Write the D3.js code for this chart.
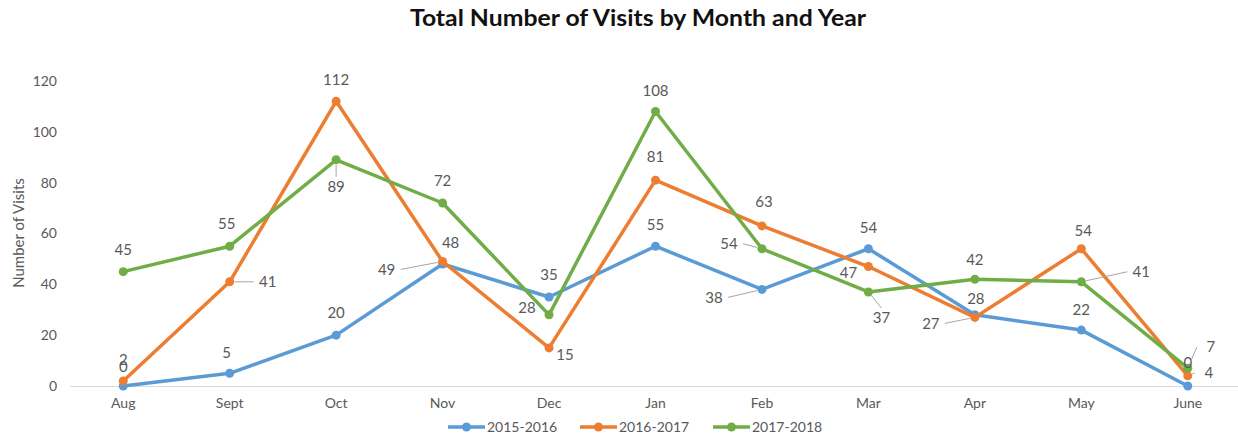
<!DOCTYPE html>
<html>
<head>
<meta charset="utf-8">
<script src="https://cdn.jsdelivr.net/npm/d3@7"></script>
<style>
  body { margin: 0; background: #fff; }
  text { font-family: "Lato", "Open Sans", sans-serif; }
</style>
</head>
<body>
<svg id="chart"></svg>
<script>
const months = ['Aug', 'Sept', 'Oct', 'Nov', 'Dec', 'Jan', 'Feb', 'Mar', 'Apr', 'May', 'June'];
const yTicks = [0, 20, 40, 60, 80, 100, 120];
const seriesNames = ['2015-2016', '2016-2017', '2017-2018'];
const visits2015 = [0, 5, 20, 48, 35, 55, 38, 54, 28, 22, 0];
const visits2016 = [2, 41, 112, 49, 15, 81, 63, 47, 27, 54, 4];
const visits2017 = [45, 55, 89, 72, 28, 108, 54, 37, 42, 41, 7];
const colors = ['#5b9bd5', '#ed7d31', '#70ad47'];

// label offsets from each point [dx, dy, leader]
const labelPos = [
  [[0,-19],[-3,-21],[0,-22],[8,-21],[0,-22],[0,-21],[-48,8,1],[0,-21],[1,-16],[0,-20],[0,-23]],
  [[0,-21],[38,0,1],[0,-22],[-56,8,1],[16,7],[0,-23],[2,-24],[-20,6],[-44,6,1],[2,-18],[21,-3,1]],
  [[0,-22],[-3,-22],[0,27,1],[0,-22],[-22,-7],[0,-21],[-33,-5,1],[13,26,1],[0,-20],[60,-10,1],[23,-21,1]]
];

const svg = d3.select('#chart').attr('width', 1238).attr('height', 436);

const x = d3.scaleBand().domain(months).range([70, 1241]);
const y = d3.scaleLinear().domain([0, 120]).range([386, 81]);
const cx = m => x(m) + x.bandwidth() / 2;

svg.append('text')
  .attr('x', 638).attr('y', 26)
  .attr('text-anchor', 'middle')
  .attr('font-size', 22).attr('font-weight', 'bold')
  .attr('textLength', 456).attr('lengthAdjust', 'spacingAndGlyphs')
  .attr('fill', '#111')
  .text('Total Number of Visits by Month and Year');

// y axis labels
svg.append('g')
  .attr('transform', 'translate(57,0)')
  .call(d3.axisLeft(y).tickValues(yTicks).tickSize(0).tickPadding(0))
  .call(g => g.select('.domain').remove())
  .selectAll('text')
  .attr('font-size', 14).attr('fill', '#595959')
  .style('font-family', '"Lato", sans-serif');

// x axis
svg.append('g')
  .attr('transform', `translate(0,${y(0)})`)
  .call(d3.axisBottom(x).tickSize(0).tickPadding(12))
  .call(g => g.select('.domain').attr('stroke', '#d9d9d9').attr('stroke-width', 1.2))
  .selectAll('text')
  .attr('font-size', 14).attr('fill', '#595959')
  .style('font-family', '"Lato", sans-serif');

svg.append('text')
  .attr('transform', 'translate(24,233) rotate(-90)')
  .attr('text-anchor', 'middle')
  .attr('font-size', 15).attr('fill', '#595959')
  .text('Number of Visits');

const allSeries = [visits2015, visits2016, visits2017];
const line = d3.line().x((d, i) => cx(months[i])).y(d => y(d));

allSeries.forEach((vals, s) => {
  svg.append('path')
    .datum(vals)
    .attr('fill', 'none')
    .attr('stroke', colors[s])
    .attr('stroke-width', 3.5)
    .attr('stroke-linejoin', 'round')
    .attr('d', line);
  svg.append('g').selectAll('circle')
    .data(vals)
    .join('circle')
    .attr('cx', (d, i) => cx(months[i]))
    .attr('cy', d => y(d))
    .attr('r', 4.5)
    .attr('fill', colors[s]);
});

// data labels
allSeries.forEach((vals, s) => {
  vals.forEach((v, i) => {
    const px = cx(months[i]), py = y(v);
    const [dx, dy, leader] = labelPos[s][i];
    const lx = px + dx, ly = py + dy;
    if (leader) {
      let ex = lx, ey = ly;
      if (Math.abs(dx) > Math.abs(dy)) ex = lx - Math.sign(dx) * 14;
      else ey = ly - Math.sign(dy) * 10;
      const len = Math.hypot(ex - px, ey - py);
      const sx = px + (ex - px) / len * 5, sy = py + (ey - py) / len * 5;
      svg.append('path')
        .attr('d', `M${sx},${sy}L${ex},${ey}`)
        .attr('fill', 'none')
        .attr('stroke', '#a6a6a6')
        .attr('stroke-width', 1);
    }
    svg.append('text')
      .attr('x', lx).attr('y', ly)
      .attr('dy', '0.35em')
      .attr('text-anchor', 'middle')
      .attr('font-size', 15).attr('fill', '#595959')
      .text(v);
  });
});

// legend
const legendX = [448, 580, 713];
seriesNames.forEach((name, s) => {
  const g = svg.append('g').attr('transform', `translate(${legendX[s]},427)`);
  g.append('line').attr('x1', 0).attr('x2', 37)
    .attr('stroke', colors[s]).attr('stroke-width', 3.5);
  g.append('circle').attr('cx', 18.5).attr('r', 4.5).attr('fill', colors[s]);
  g.append('text').attr('x', 39).attr('dy', '0.35em')
    .attr('font-size', 14).attr('fill', '#595959').text(name);
});
</script>
</body>
</html>
